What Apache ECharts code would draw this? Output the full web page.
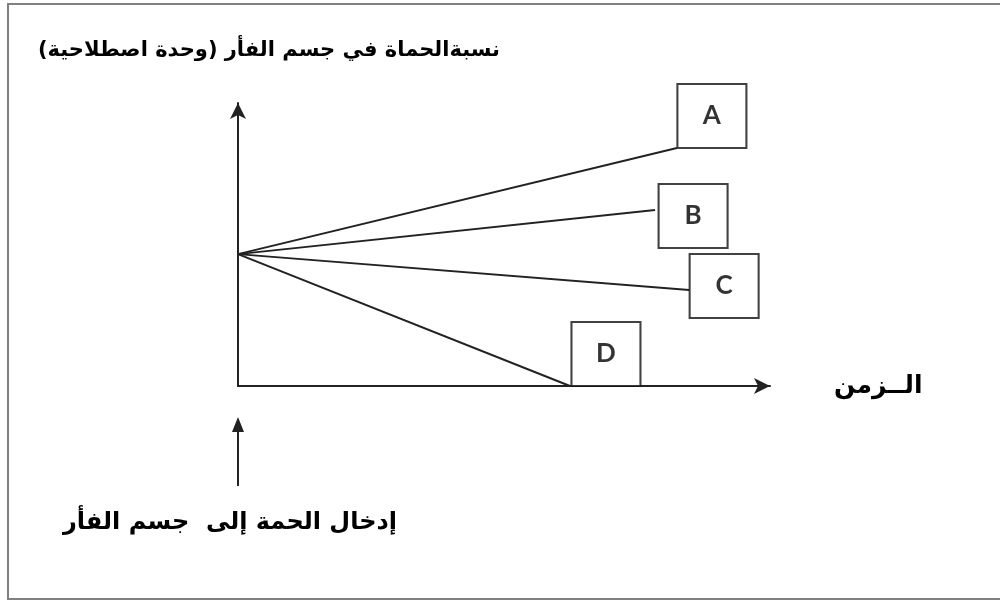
<!DOCTYPE html>
<html>
<head>
<meta charset="utf-8">
<script src="https://cdn.jsdelivr.net/npm/echarts@6/dist/echarts.min.js"></script>
<style>
  body { margin: 0; background: #fff; }
  #frame {
    position: absolute; left: 7px; top: 3px;
    width: 1010px; height: 593px;
    border: 2px solid #808080;
  }
  #chart { position: absolute; left: 0; top: 0; width: 1000px; height: 600px; }
</style>
</head>
<body>
<div id="frame"></div>
<div id="chart"></div>
<script>
// schematic curves: every line starts from the same level at time 0
const curveNames = ['A', 'B', 'C', 'D'];
const startLevel = 4.66;
const endTimes = [8.25, 7.84, 8.48, 6.24];
const endLevels = [8.41, 6.22, 3.39, 0];
// box placement around each line end (px)
const boxOffsets = [[35, -32], [38, 6], [35, -4], [36, -32]];

const yTitle = 'نسبةالحماة في جسم الفأر (وحدة اصطلاحية)';
const xTitle = 'الــزمن';
const injectText = 'إدخال الحمة إلى  جسم الفأر';

const lineColor = '#222';
const chart = echarts.init(document.getElementById('chart'));

const lineSeries = curveNames.map((name, i) => ({
  name: name,
  type: 'line',
  symbol: 'none',
  lineStyle: { color: lineColor, width: 2 },
  data: [[0, startLevel], [endTimes[i], endLevels[i]]],
  z: 2
}));

const boxSeries = {
  type: 'scatter',
  symbol: 'rect',
  symbolSize: [69, 64],
  itemStyle: { color: '#fff', borderColor: '#111', borderWidth: 2 },
  label: {
    show: true, position: 'inside',
    formatter: p => p.data.name,
    fontFamily: 'Lato', fontWeight: 'bold', fontSize: 26, color: '#000'
  },
  data: curveNames.map((name, i) => ({
    name: name,
    value: [endTimes[i], endLevels[i]],
    symbolOffset: boxOffsets[i]
  })),
  z: 3
};

chart.setOption({
  animation: false,
  title: [
    {
      text: yTitle, right: 495, top: 35,
      textStyle: { fontFamily: 'DejaVu Sans', fontWeight: 'bold', fontSize: 21, color: '#000' }
    },
    {
      text: injectText, right: 598, top: 506,
      textStyle: { fontFamily: 'DejaVu Sans', fontWeight: 'bold', fontSize: 24, color: '#000' }
    }
  ],
  grid: { left: 238, top: 103, width: 532, height: 283 },
  xAxis: {
    type: 'value', min: 0, max: 10,
    name: xTitle, nameLocation: 'end', nameGap: 64,
    nameTextStyle: { fontFamily: 'DejaVu Sans', fontWeight: 'bold', fontSize: 25, color: '#000' },
    axisLine: { show: true, symbol: ['none', 'arrow'], symbolSize: [12, 16],
      lineStyle: { color: lineColor, width: 2 } },
    axisTick: { show: false }, axisLabel: { show: false }, splitLine: { show: false }
  },
  yAxis: {
    type: 'value', min: 0, max: 10,
    axisLine: { show: true, symbol: ['none', 'arrow'], symbolSize: [12, 16],
      lineStyle: { color: lineColor, width: 2 } },
    axisTick: { show: false }, axisLabel: { show: false }, splitLine: { show: false }
  },
  series: [...lineSeries, boxSeries]
});

// arrow under the origin marking the moment of injection
const ox = chart.convertToPixel({ xAxisIndex: 0 }, 0);
chart.setOption({
  graphic: [
    { type: 'line', shape: { x1: ox, y1: 486, x2: ox, y2: 428 },
      style: { stroke: lineColor, lineWidth: 2 } },
    { type: 'polygon', shape: { points: [[ox, 417], [ox - 6, 432], [ox + 6, 432]] },
      style: { fill: lineColor } }
  ]
});
</script>
</body>
</html>
